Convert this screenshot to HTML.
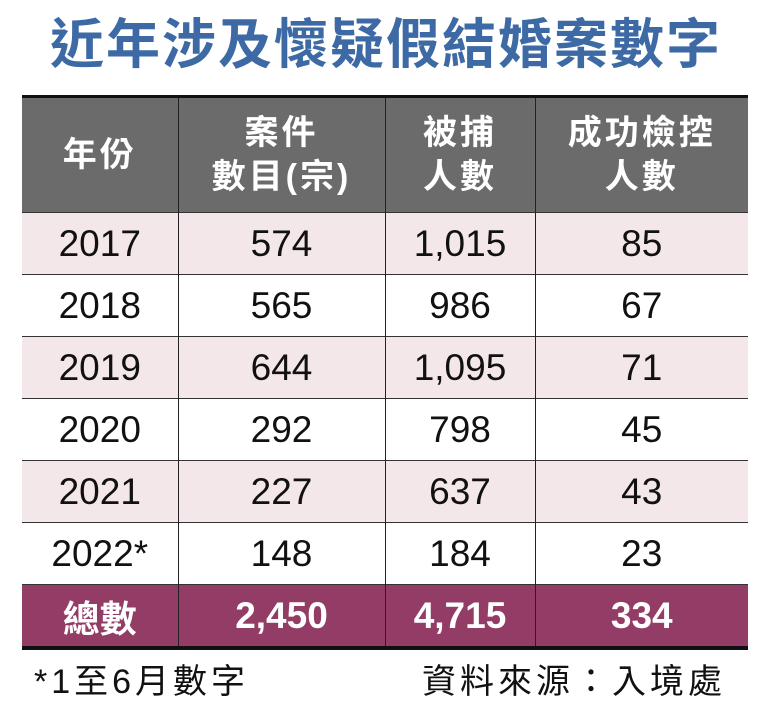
<!DOCTYPE html><html><head><meta charset="utf-8"><style>
body{margin:0;width:772px;height:720px;background:#fff;position:relative;overflow:hidden;font-family:"Liberation Sans","Noto Sans CJK TC",sans-serif}
.t{position:absolute;left:0;width:772px;top:12px;text-align:center;font-size:54px;font-weight:bold;color:#3d6aa5;line-height:66px;letter-spacing:2px}
table{position:absolute;left:22px;top:95px;width:726px;border-collapse:collapse;border-top:3px solid #111;border-bottom:4px solid #111}
td{text-align:center;border-left:1.5px solid #222;border-top:1.5px solid #333;font-size:37px;height:61px;padding:0;color:#111}
td:first-child{border-left:none}
tr.h td{background:#6b6b6b;color:#fff;font-weight:bold;font-size:34px;line-height:44px;height:114px;border-top:none;letter-spacing:3px}
tr.p td{background:#f3e7e9}
tr.s td{background:#933d66;color:#fff;font-weight:bold;font-size:37px}
.f{position:absolute;top:654px;font-size:34px;color:#111;letter-spacing:4px}
</style></head><body>
<div class="t">近年涉及懷疑假結婚案數字</div>
<table>
<colgroup><col style="width:156px"><col style="width:207px"><col style="width:150px"><col style="width:213px"></colgroup>
<tr class="h"><td>年份</td><td>案件<br>數目(宗)</td><td>被捕<br>人數</td><td>成功檢控<br>人數</td></tr>
<tr class="p"><td>2017</td><td>574</td><td>1,015</td><td>85</td></tr>
<tr><td>2018</td><td>565</td><td>986</td><td>67</td></tr>
<tr class="p"><td>2019</td><td>644</td><td>1,095</td><td>71</td></tr>
<tr><td>2020</td><td>292</td><td>798</td><td>45</td></tr>
<tr class="p"><td>2021</td><td>227</td><td>637</td><td>43</td></tr>
<tr><td>2022*</td><td>148</td><td>184</td><td>23</td></tr>
<tr class="s"><td>總數</td><td>2,450</td><td>4,715</td><td>334</td></tr>
</table>
<div class="f" style="left:34px">*1至6月數字</div>
<div class="f" style="left:422px">資料來源：入境處</div>
</body></html>
